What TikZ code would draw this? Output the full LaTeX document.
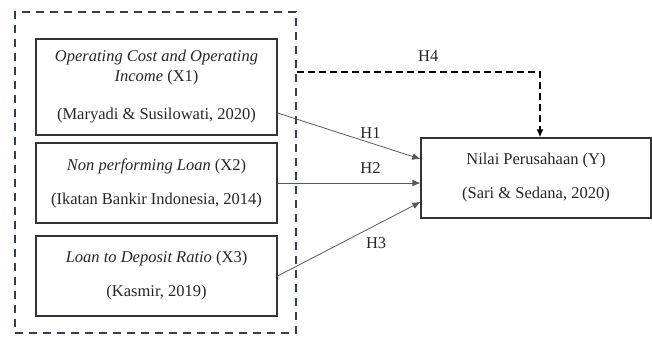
\documentclass[tikz,border=0pt]{standalone}
\usepackage{fontspec}
\setmainfont{Liberation Serif}
\usetikzlibrary{arrows.meta}
\definecolor{groupblue}{RGB}{47,62,92}
\begin{document}
\begin{tikzpicture}
[x=1pt,y=-1pt,
  boxdecorate/.style={shape=rectangle,draw=black!80,line width=1.2pt,align=center,inner sep=0pt,text=black!85,font=\fontsize{16.5}{20}\selectfont},%
  groupdecorate/.style={shape=rectangle,draw=groupblue,line width=1.8pt,dash pattern=on 8pt off 6pt},%
  linedecorate/.style={-{Latex[length=8pt,width=7pt]},draw=black!65,line width=0.8pt},%
  hypodecorate/.style={-{Latex[length=8pt,width=7pt]},draw=black,line width=1.8pt,dash pattern=on 7pt off 4pt},%
  labeldecorate/.style={font=\fontsize{16.5}{20}\selectfont,text=black!85}]
\useasboundingbox (0,0) rectangle (652,337);
%% group of the X variables
\node (grp) at (155.5,172.5) [groupdecorate,minimum width=281pt,minimum height=321pt] {};
%% nodes or boxes
\foreach \nodename/\x/\y/\w/\h/\content in {
  X1/156.5/87/241/96/{\textit{Operating Cost and Operating}\\\textit{Income} (X1)\\[18pt](Maryadi \& Susilowati, 2020)},
  X2/156.5/183/241/80/{\textit{Non performing Loan} (X2)\\[14pt](Ikatan Bankir Indonesia, 2014)},
  X3/156.5/276/241/80/{\textit{Loan to Deposit Ratio} (X3)\\[14pt](Kasmir, 2019)},
  Y/536/178/230/80/{Nilai Perusahaan (Y)\\[14pt](Sari \& Sedana, 2020)}} {
  \node (\nodename) at (\x,\y) [boxdecorate,minimum width=\w pt,minimum height=\h pt] {\content};
}
%% edges or lines
\path
\foreach \startnode/\sshift/\eshift/\where/\anc/\dy/\hname in {X1/-26/19/0.65/south/1/H1,
  X2/0/-5/0.65/south/6/H2, X3/0/-24/0.69/north/-9/H3} {
  ([yshift=\sshift pt]\startnode.east) edge[linedecorate] node[labeldecorate,pos=\where,anchor=\anc,yshift=\dy pt] {\hname} ([yshift=\eshift pt]Y.west)
};
%% moderating hypothesis
\coordinate (h4turn) at (540,72);
\draw[hypodecorate] (grp.east |- h4turn) -- node[labeldecorate,pos=0.54,anchor=south,yshift=6pt] {H4} (h4turn) -- ([xshift=4pt]Y.north);
\end{tikzpicture}
\end{document}
